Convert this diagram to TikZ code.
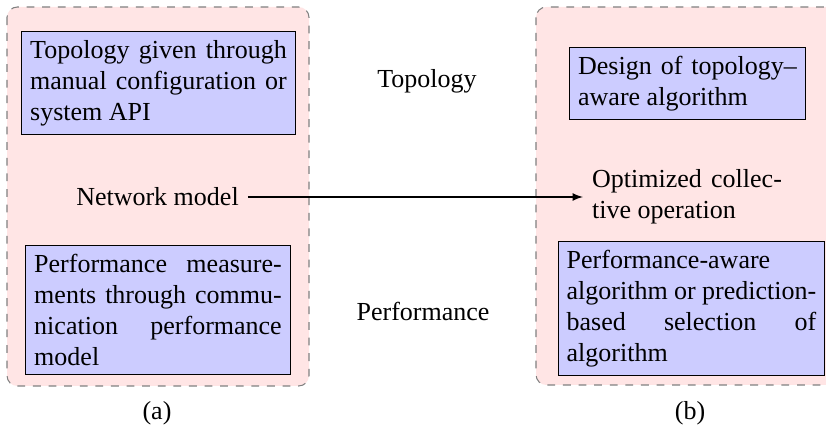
\documentclass[tikz,border=0pt]{standalone}
\usepackage{fontspec}
\setmainfont{Liberation Serif}
\usetikzlibrary{arrows}
\begin{document}
\begin{tikzpicture}[x=0.3846pt,y=-0.3846pt,
  panel/.style={draw=gray,dashed,fill=red!10,rounded corners=4pt},
  block/.style={draw=black,fill=blue!20,align=justify,inner sep=3.33pt},
  plain/.style={inner sep=3.33pt},
  flow/.style={-latex}]
\useasboundingbox (0,0) rectangle (826,438);

% background panels
\draw[panel] (7,7) rectangle (309,386);
\draw[panel] (536,7) rectangle (860,385);

% left panel
\node[block,text width=98.7pt] (topo) at (158.5,83)
  {Topology given through\linebreak manual configuration or\linebreak system API};
\node[plain] (net) at (157.5,197) {Network model};
\node[block,text width=95.2pt] (perf) at (158,310)
  {Performance measure-\linebreak ments through commu-\linebreak nication performance\linebreak model};

% middle labels
\node[plain] (ltopo) at (427,81) {Topology};
\node[plain] (lperf) at (423,311) {Performance};

% right panel
\node[block,text width=84.1pt] (design) at (687.5,83.5)
  {Design of topology--\linebreak aware algorithm};
\node[plain,text width=73pt,align=justify] (opt) at (687,197)
  {Optimized collec-\linebreak tive operation};
\node[block,text width=96pt] (sel) at (691.5,308.5)
  {Performance-aware\\ algorithm or prediction-\linebreak based selection of\linebreak algorithm};

% captions
\node[plain] (capa) at (157,413) {(a)};
\node[plain] (capb) at (690,413) {(b)};

% connector
\draw[flow] (net.east) -- (net.east -| opt.west);
\end{tikzpicture}
\end{document}
